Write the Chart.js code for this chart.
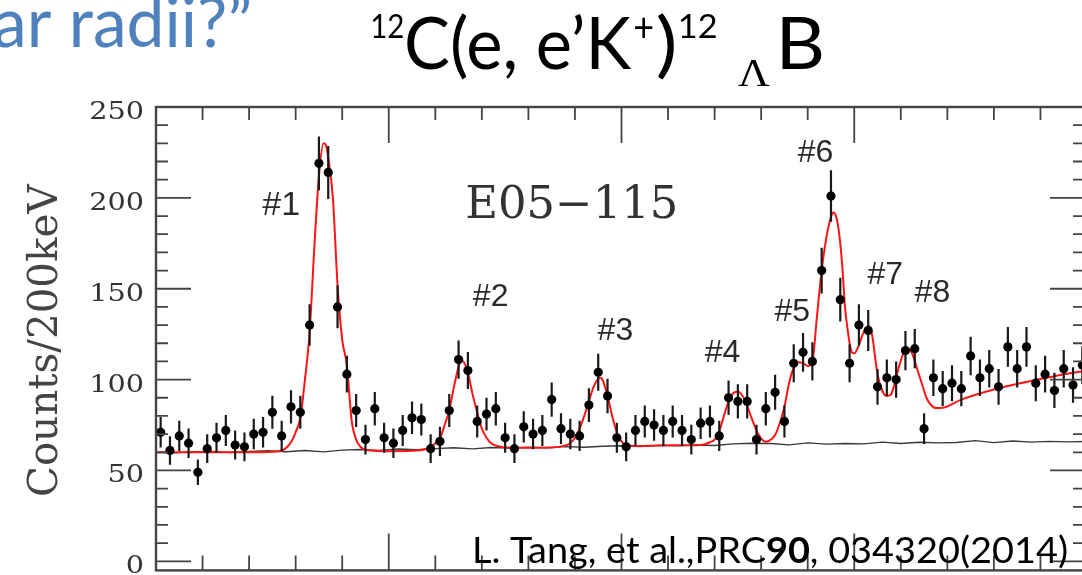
<!DOCTYPE html>
<html><head><meta charset="utf-8">
<script src="https://cdn.jsdelivr.net/npm/chart.js@4.4.1/dist/chart.umd.min.js"></script>
<style>html,body{margin:0;padding:0;background:#fff;overflow:hidden;width:1082px;height:575px}canvas{display:block}</style>
</head><body>
<canvas id="c" width="1100" height="575"></canvas>
<script>
// ---- data ----
const binCenters = [-14.9,-14.7,-14.5,-14.3,-14.1,-13.9,-13.7,-13.5,-13.3,-13.1,
 -12.9,-12.7,-12.5,-12.3,-12.1,-11.9,-11.7,-11.5,-11.3,-11.1,
 -10.9,-10.7,-10.5,-10.3,-10.1,-9.9,-9.7,-9.5,-9.3,-9.1,
 -8.9,-8.7,-8.5,-8.3,-8.1,-7.9,-7.7,-7.5,-7.3,-7.1,
 -6.9,-6.7,-6.5,-6.3,-6.1,-5.9,-5.7,-5.5,-5.3,-5.1,
 -4.9,-4.7,-4.5,-4.3,-4.1,-3.9,-3.7,-3.5,-3.3,-3.1,
 -2.9,-2.7,-2.5,-2.3,-2.1,-1.9,-1.7,-1.5,-1.3,-1.1,
 -0.9,-0.7,-0.5,-0.3,-0.1,0.1,0.3,0.5,0.7,0.9,
 1.1,1.3,1.5,1.7,1.9,2.1,2.3,2.5,2.7,2.9,
 3.1,3.3,3.5,3.7,3.9,4.1,4.3,4.5,4.7,4.9];
const counts = [71,61,69,65,49,62,68,72,64,63,
 70,71,82,69,85,82,130,219,214,140,
 103,83,67,84,68,65,72,79,78,62,
 66,83,111,105,77,81,84,68,62,74,
 70,72,89,73,70,69,86,104,91,68,
 63,72,77,75,72,77,72,67,76,77,
 69,90,88,88,67,84,93,77,109,115,
 110,160,201,144,109,130,127,96,101,100,
 116,117,73,101,95,98,95,113,101,106,
 96,118,106,118,98,103,94,106,97,108];
const countErrors = [8.4,7.8,8.3,8.1,7.0,7.9,8.2,8.5,8.0,7.9,
 8.4,8.4,9.1,8.3,9.2,9.1,11.4,14.8,14.6,11.8,
 10.1,9.1,8.2,9.2,8.2,8.1,8.5,8.9,8.8,7.9,
 8.1,9.1,10.5,10.2,8.8,9.0,9.2,8.2,7.9,8.6,
 8.4,8.5,9.4,8.5,8.4,8.3,9.3,10.2,9.5,8.2,
 7.9,8.5,8.8,8.7,8.5,8.8,8.5,8.2,8.7,8.8,
 8.3,9.5,9.4,9.4,8.2,9.2,9.6,8.8,10.4,10.7,
 10.5,12.6,14.2,12.0,10.4,11.4,11.3,9.8,10.0,10.0,
 10.8,10.8,8.5,10.0,9.7,9.9,9.7,10.6,10.0,10.3,
 9.8,10.9,10.3,10.9,9.9,10.1,9.7,10.3,9.8,10.4];
// red fit curve
const fitX = [-15.0,-13.0,-12.5,-12.3,-12.2,-12.1,-12.0,-11.9,-11.8,-11.7,-11.6,-11.5,-11.4,-11.35,-11.3,-11.2,-11.1,-11.0,-10.9,-10.85,-10.8,-10.7,-10.6,-10.4,-10.0,
 -9.5,-9.2,-9.1,-9.0,-8.9,-8.8,-8.7,-8.6,-8.5,-8.45,-8.4,-8.3,-8.2,-8.1,-8.0,-7.9,-7.8,-7.6,-7.3,
 -6.5,-6.2,-6.1,-6.0,-5.9,-5.8,-5.7,-5.6,-5.5,-5.45,-5.4,-5.3,-5.2,-5.1,-5.0,-4.9,-4.7,
 -4.0,-3.3,-3.1,-3.0,-2.9,-2.8,-2.7,-2.6,-2.5,-2.4,-2.3,-2.2,-2.1,-2.0,-1.9,-1.8,-1.7,-1.6,-1.5,-1.4,-1.3,-1.2,-1.1,-1.0,
 -0.9,-0.8,-0.7,-0.6,-0.5,-0.45,-0.4,-0.35,-0.3,-0.25,-0.2,-0.15,-0.1,-0.05,0.0,
 0.1,0.2,0.3,0.35,0.4,0.45,0.5,0.6,0.7,0.78,0.85,0.95,1.05,1.15,1.25,1.35,1.45,1.55,1.65,1.75,1.85,
 2.3,3.0,3.7,4.4,5.0];
const fitY = [60.0,60.0,60.3,61.0,62.5,65.5,71,79,100,126,172,212,230,229,222,200,152,122,108,93,78,67,62.8,61,60.6,
 60.8,61.8,63,65,67.5,75,83,96,107,110.5,110,104,92,82,73,68,65,63,62.5,
 62.6,63.8,65,68,73,80,88,96,100.5,101,99.5,91,80,71,66,64,63.5,
 63.8,64,65.5,67,71.5,80,88,92.5,93.5,91,85.5,78.5,72,67.5,65.8,66.8,69.5,76,85,98,106.5,109.5,109,107.5,
 110,135,160,178,189.5,192,190.5,185,175,160,140,129,120,115,114.5,
 119,126,129.5,128.5,122,112,103,94,91,91.5,96,106,114,117,114,106,98,90,86,84.3,84.3,
 89,94.5,98.7,102.4,105];
// black accidental-background curve
const accX = [-15,-14.6,-14.2,-13.8,-13.4,-13.0,-12.6,-12.2,-11.8,-11.4,-11.0,-10.6,-10.2,-9.8,-9.4,-9.0,-8.6,-8.2,-7.8,-7.4,
 -7.0,-6.6,-6.2,-5.8,-5.4,-5.0,-4.6,-4.2,-3.8,-3.4,-3.0,-2.6,-2.2,-1.8,-1.4,-1.0,-0.6,-0.2,0.2,0.6,
 1.0,1.4,1.8,2.2,2.6,3.0,3.4,3.8,4.2,4.6,5.0];
const accY = [60.0,59.7,60.2,60.4,59.9,60.5,60.8,60.3,61.0,60.2,61.2,61.5,61.0,61.8,61.4,62.0,62.5,61.9,62.6,62.3,
 62.8,62.4,63.1,62.8,63.3,63.6,63.2,63.8,63.5,64.0,63.7,64.6,65.0,64.8,64.1,65.2,64.5,64.8,64.6,65.6,
 64.8,65.5,65.2,65.4,66.4,65.3,66.2,65.6,66.0,65.7,65.9];
const yTickValues = [0,50,100,150,200,250];
const yTickLabels = ['0','50','100','150','200','250'];
const peakNames = ['#1','#2','#3','#4','#5','#6','#7','#8'];
const peakNameX = [-12.32,-7.82,-5.14,-2.84,-1.34,-0.84,0.66,1.67];
const peakNameY = [197,146.6,128,116,138.4,225.6,158.7,148.8];

// ---- text helpers ----
function fitBox(ctx, text, font, color, x0, x1, baseline){
  ctx.save(); ctx.font = font; ctx.fillStyle = color; ctx.textAlign='left'; ctx.textBaseline='alphabetic';
  const m = ctx.measureText(text);
  const w = m.actualBoundingBoxLeft + m.actualBoundingBoxRight;
  const sx = (x1 - x0) / w;
  ctx.translate(x0, baseline); ctx.scale(sx, 1);
  ctx.fillText(text, m.actualBoundingBoxLeft, 0);
  ctx.restore();
}
function inkCenter(ctx, text, font, color, cx, cy, width, angle){
  ctx.save(); ctx.font = font; ctx.fillStyle = color; ctx.textAlign='left'; ctx.textBaseline='alphabetic';
  const m = ctx.measureText(text);
  const w = m.actualBoundingBoxLeft + m.actualBoundingBoxRight;
  const sx = width ? width / w : 1;
  ctx.translate(cx, cy); if (angle) ctx.rotate(angle); ctx.scale(sx, 1);
  const bx = -w/2 + m.actualBoundingBoxLeft;
  const by = (m.actualBoundingBoxAscent - m.actualBoundingBoxDescent)/2;
  ctx.fillText(text, bx, by);
  ctx.restore();
}
function inkRight(ctx, text, font, color, xr, cy, sx){
  ctx.save(); ctx.font = font; ctx.fillStyle = color; ctx.textAlign='left'; ctx.textBaseline='alphabetic';
  const m = ctx.measureText(text);
  const w = (m.actualBoundingBoxLeft + m.actualBoundingBoxRight) * sx;
  ctx.translate(xr - w, cy + (m.actualBoundingBoxAscent - m.actualBoundingBoxDescent)/2); ctx.scale(sx, 1);
  ctx.fillText(text, m.actualBoundingBoxLeft, 0);
  ctx.restore();
}
function runs(ctx, parts, x0, x1, baseline, color){
  ctx.save(); ctx.fillStyle = color; ctx.textAlign='left'; ctx.textBaseline='alphabetic';
  let total = 0; const ws = [];
  parts.forEach(p => { ctx.font = p[1]; const w = ctx.measureText(p[0]).width; ws.push(w); total += w; });
  const sx = (x1 - x0) / total;
  ctx.translate(x0, baseline); ctx.scale(sx, 1);
  let cx = 0;
  parts.forEach((p, i) => { ctx.font = p[1]; ctx.fillText(p[0], cx, 0); cx += ws[i]; });
  ctx.restore();
}

const decor = {
  id: 'decor',
  beforeDatasetDraw(chart, args){
    if (args.index !== 0) return;
    const {ctx, scales:{x, y}} = chart;
    ctx.save(); ctx.strokeStyle = '#1a1a1a'; ctx.lineWidth = 2.2; ctx.beginPath();
    binCenters.forEach((c, i) => {
      const px = x.getPixelForValue(c);
      ctx.moveTo(px, y.getPixelForValue(counts[i] - countErrors[i]));
      ctx.lineTo(px, y.getPixelForValue(counts[i] + countErrors[i]));
    });
    ctx.stroke(); ctx.restore();
  },
  afterDraw(chart){
    const {ctx, chartArea:a, scales:{x, y}} = chart;
    ctx.save();
    ctx.strokeStyle = '#444'; ctx.lineWidth = 2.4;
    ctx.strokeRect(a.left, a.top, a.right - a.left, a.bottom - a.top);
    ctx.lineWidth = 1.8; ctx.beginPath();
    for (let v = x.min; v <= x.max; v += 1){
      const px = x.getPixelForValue(v); const major = v % 5 === 0;
      ctx.moveTo(px, a.top); ctx.lineTo(px, a.top + (major ? 36 : 13));
      ctx.moveTo(px, a.bottom); ctx.lineTo(px, a.bottom - (major ? 37 : 15));
    }
    for (let v = 0; v <= y.max; v += 10){
      const py = y.getPixelForValue(v); const major = v % 50 === 0;
      ctx.moveTo(a.left, py); ctx.lineTo(a.left + (major ? 35 : 12), py);
      ctx.moveTo(a.right, py); ctx.lineTo(a.right - (major ? 37 : 14), py);
    }
    ctx.stroke(); ctx.restore();

    // y tick labels
    yTickValues.forEach((v, i) => inkRight(ctx, yTickLabels[i], '25px "DejaVu Serif"', '#333', 143, y.getPixelForValue(v) + 3, 1.15));
    // y axis title
    inkCenter(ctx, 'Counts/200keV', '41px "DejaVu Serif"', '#444', 43, 339, 312, -Math.PI/2);
    // experiment label
    inkCenter(ctx, 'E05\u2212115', '44px "DejaVu Serif"', '#333', x.getPixelForValue(-6.08), y.getPixelForValue(198.2), 208);
    // peak labels
    peakNames.forEach((n, i) => inkCenter(ctx, n, (i === 0 ? '34px' : '32px') + ' "Liberation Sans"', '#2a2a2a',
      x.getPixelForValue(peakNameX[i]), y.getPixelForValue(peakNameY[i])));

    // slide texts
    fitBox(ctx, 'ar radii?\u201D', '69px Lato', '#4F81BD', -5, 250, 47);
    fitBox(ctx, '12', '32px Lato', '#000', 372, 403, 38);
    fitBox(ctx, 'C(e, e\u2019K', '71px Lato', '#000', 407, 632, 69);
    fitBox(ctx, '+', '40px Lato', '#000', 635, 653, 42);
    fitBox(ctx, ')', '71px Lato', '#000', 658, 674, 69);
    fitBox(ctx, '12', '32px Lato', '#000', 680, 716, 38);
    fitBox(ctx, '\u039B', '41px "Liberation Serif"', '#000', 738, 770, 86);
    fitBox(ctx, 'B', '71px Lato', '#000', 782, 822, 69);
    runs(ctx, [['L. Tang, et al.,PRC', '37px Lato'], ['90', 'bold 37px Lato'], [', 034320(2014)', '37px Lato']], 472, 1068, 563, '#000');
  }
};

new Chart(document.getElementById('c'), {
  type: 'scatter',
  data: { datasets: [
    { label: 'data', data: binCenters.map((c, i) => ({x: c, y: counts[i]})), showLine: false,
      pointRadius: 4.6, pointBackgroundColor: '#000', pointBorderColor: '#000', pointBorderWidth: 0 },
    { label: 'fit', data: fitX.map((v, i) => ({x: v, y: fitY[i]})), showLine: true, borderColor: '#ff1414',
      borderWidth: 2, pointRadius: 0, cubicInterpolationMode: 'monotone' },
    { label: 'accidentals', data: accX.map((v, i) => ({x: v, y: accY[i]})), showLine: true, borderColor: '#3a3a3a',
      borderWidth: 1.4, pointRadius: 0, tension: 0 }
  ]},
  options: {
    responsive: false, animation: false, devicePixelRatio: 1, events: [],
    layout: { padding: { left: 156, top: 107, right: 13, bottom: 2 } },
    scales: {
      x: { type: 'linear', min: -15, max: 5, display: false },
      y: { type: 'linear', min: -5, max: 250, display: false }
    },
    plugins: { legend: { display: false }, tooltip: { enabled: false } }
  },
  plugins: [decor]
});
</script>
</body></html>
